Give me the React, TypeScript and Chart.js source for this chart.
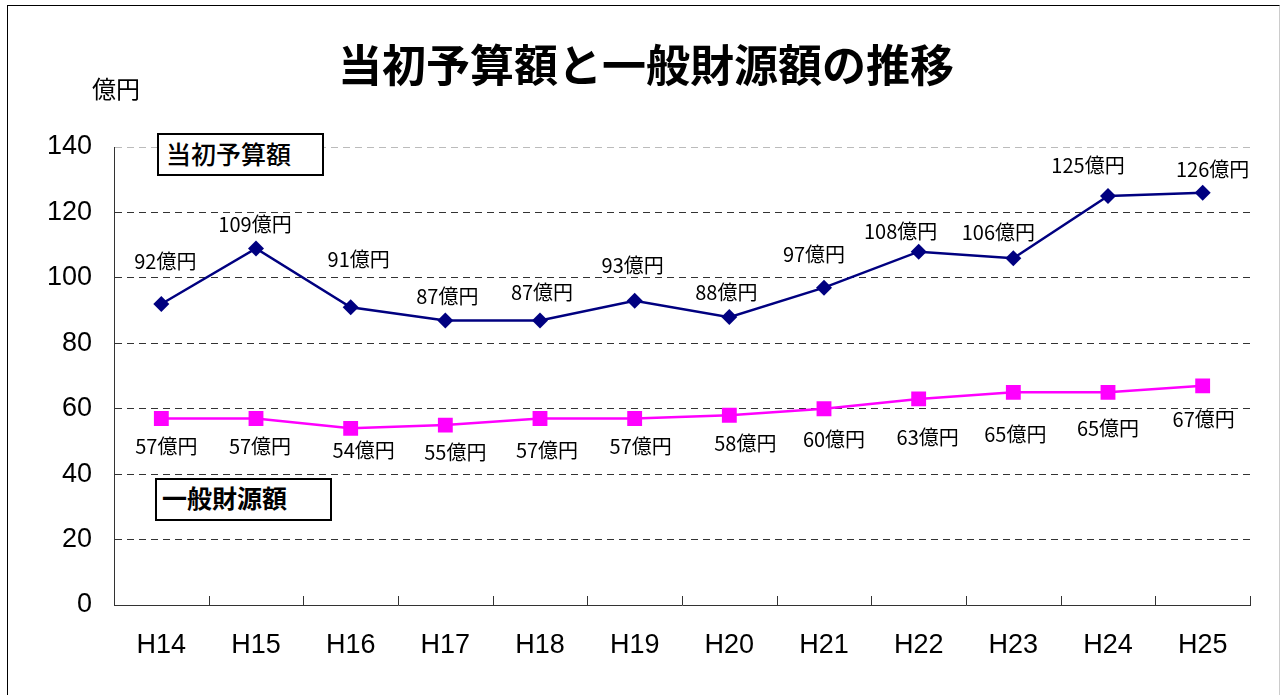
import React, { useEffect, useRef } from "react";
import { Chart, registerables } from "chart.js";

Chart.register(...registerables);

const categories = ["H14", "H15", "H16", "H17", "H18", "H19", "H20", "H21", "H22", "H23", "H24", "H25"];
const initialBudget = [92, 109, 91, 87, 87, 93, 88, 97, 108, 106, 125, 126];
const generalRevenue = [57, 57, 54, 55, 57, 57, 58, 60, 63, 65, 65, 67];
const yTicks = [0, 20, 40, 60, 80, 100, 120, 140];

// label placement offsets relative to each point (style)
const budgetLabelOffsets: [number, number][] = [
  [4, -43], [-1, -24], [8, -48], [2, -24], [2, -28], [-2, -35],
  [-3, -25], [-10, -33], [-18, -20], [-15, -26], [-20, -31], [10, -23],
];
const revenueLabelOffsets: [number, number][] = [
  [5, 28], [4, 28], [13, 22], [10, 27], [7, 32], [6, 28],
  [16, 28], [10, 31], [9, 39], [2, 42], [0, 36], [1, 34],
];

const JP = '"Noto Sans CJK JP", "Noto Sans", sans-serif';
const LAT = '"Liberation Sans", Arial, sans-serif';

const labelPlugin = {
  id: "valueLabels",
  afterDatasetsDraw(chart: any) {
    const ctx = chart.ctx;
    ctx.save();
    ctx.font = `20px ${JP}`;
    ctx.fillStyle = "#000";
    ctx.textAlign = "center";
    ctx.textBaseline = "middle";
    chart.data.datasets.forEach((ds: any, di: number) => {
      const meta = chart.getDatasetMeta(di);
      const offs = di === 0 ? budgetLabelOffsets : revenueLabelOffsets;
      meta.data.forEach((pt: any, i: number) => {
        const [dx, dy] = offs[i];
        ctx.fillText(`${ds.data[i]}億円`, pt.x + dx, pt.y + dy);
      });
    });
    ctx.restore();
  },
};

const tickPlugin = {
  id: "innerTicks",
  afterDraw(chart: any) {
    const ctx = chart.ctx;
    const x = chart.scales.x;
    const bottom = chart.chartArea.bottom;
    ctx.save();
    ctx.strokeStyle = "#333";
    ctx.lineWidth = 1;
    ctx.beginPath();
    for (let i = 1; i <= categories.length; i++) {
      const px = Math.round(x.getPixelForValue(i - 0.5)) + 0.5;
      ctx.moveTo(px, bottom);
      ctx.lineTo(px, bottom - 9);
    }
    ctx.stroke();
    ctx.restore();
  },
};

export default function App() {
  const ref = useRef<HTMLCanvasElement>(null);
  useEffect(() => {
    if (!ref.current) return;
    const chart = new Chart(ref.current, {
      type: "line",
      data: {
        labels: categories,
        datasets: [
          {
            label: "当初予算額",
            data: initialBudget,
            borderColor: "#000080",
            backgroundColor: "#000080",
            borderWidth: 2.5,
            pointStyle: "rectRot",
            pointRadius: 8,
            pointBorderWidth: 0,
            tension: 0,
          },
          {
            label: "一般財源額",
            data: generalRevenue,
            borderColor: "#FF00FF",
            backgroundColor: "#FF00FF",
            borderWidth: 2.5,
            pointStyle: "rect",
            pointRadius: 10.5,
            pointBorderWidth: 0,
            tension: 0,
          },
        ],
      },
      options: {
        responsive: false,
        animation: false,
        layout: { padding: { left: 0, top: 147, right: 32, bottom: 0 } },
        plugins: {
          legend: { display: false },
          title: { display: false },
          tooltip: { enabled: false },
        },
        scales: {
          x: {
            type: "category",
            offset: true,
            grid: { display: false, drawTicks: false },
            border: { display: true, color: "#333", width: 1 },
            ticks: {
              color: "#000",
              font: { family: LAT, size: 27 },
              padding: 24,
              maxRotation: 0,
            },
            afterFit: (s: any) => {
              s.height = 90;
            },
          },
          y: {
            min: 0,
            max: 140,
            afterBuildTicks: (s: any) => {
              s.ticks = yTicks.map((v) => ({ value: v }));
            },
            grid: {
              drawTicks: false,
              color: (c: any) =>
                c.tick && c.tick.value === 0 ? "rgba(0,0,0,0)" : c.tick && c.tick.value === 140 ? "#bbb" : "#333",
              lineWidth: 1,
            },
            border: { display: true, color: "#333", width: 1, dash: [7, 5] },
            ticks: {
              color: "#000",
              font: { family: LAT, size: 27 },
              padding: 22,
            },
            afterFit: (s: any) => {
              s.width = 114;
            },
          },
        },
      },
      plugins: [labelPlugin, tickPlugin],
    } as any);
    return () => chart.destroy();
  }, []);

  return (
    <div style={{ position: "fixed", left: 0, top: 0, width: 1282, height: 695, background: "#fff", overflow: "hidden" }}>
      <div
        style={{
          position: "absolute",
          left: 7,
          top: 5,
          width: 1273,
          height: 720,
          border: "1px solid #000",
          borderRightColor: "#ccc",
          boxSizing: "border-box",
        }}
      />
      <canvas ref={ref} width={1282} height={695} style={{ position: "absolute", left: 0, top: 0 }} />
      <div
        style={{
          position: "absolute",
          left: 0,
          width: 1292,
          top: 34,
          textAlign: "center",
          fontFamily: JP,
          fontWeight: 700,
          fontSize: 44,
          lineHeight: "58px",
          color: "#000",
          whiteSpace: "nowrap",
        }}
      >
        当初予算額と一般財源額の推移
      </div>
      <div
        style={{
          position: "absolute",
          left: 92,
          top: 72,
          fontFamily: JP,
          fontSize: 24,
          lineHeight: "32px",
          color: "#000",
        }}
      >
        億円
      </div>
      <div
        style={{
          position: "absolute",
          left: 157,
          top: 133,
          width: 167,
          height: 43,
          border: "2px solid #000",
          boxSizing: "border-box",
          background: "#fff",
          fontFamily: JP,
          fontSize: 25,
          fontWeight: 500,
          lineHeight: "36px",
          paddingLeft: 7,
          color: "#000",
          whiteSpace: "nowrap",
        }}
      >
        当初予算額
      </div>
      <div
        style={{
          position: "absolute",
          left: 155,
          top: 478,
          width: 177,
          height: 43,
          border: "2px solid #000",
          boxSizing: "border-box",
          background: "#fff",
          fontFamily: JP,
          fontSize: 25,
          fontWeight: 700,
          lineHeight: "34px",
          paddingLeft: 5,
          color: "#000",
          whiteSpace: "nowrap",
        }}
      >
        一般財源額
      </div>
    </div>
  );
}
